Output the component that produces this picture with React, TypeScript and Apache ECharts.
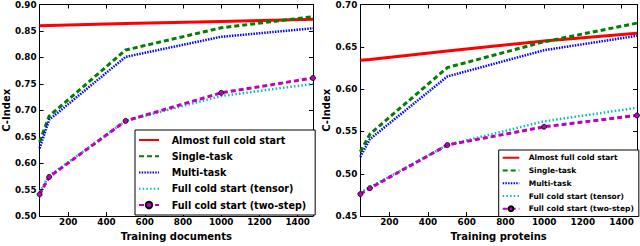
import React, { useEffect, useRef } from "react";
import * as echarts from "echarts";

const trainingSizes = [50, 100, 500, 1000, 1480];
const xTickValues = [200, 400, 600, 800, 1000, 1200, 1400];
const seriesNames = [
  "Almost full cold start",
  "Single-task",
  "Multi-task",
  "Full cold start (tensor)",
  "Full cold start (two-step)",
];

// Left panel: training documents
const docsAlmostFull = [0.86, 0.8605, 0.864, 0.868, 0.872];
const docsSingleTask = [0.64, 0.689, 0.814, 0.856, 0.877];
const docsMultiTask = [0.628, 0.682, 0.801, 0.839, 0.855];
const docsTensor = [0.546, 0.576, 0.68, 0.727, 0.75];
const docsTwoStep = [0.541, 0.574, 0.68, 0.733, 0.761];

// Right panel: training proteins
const protAlmostFull = [0.634, 0.635, 0.645, 0.657, 0.666];
const protSingleTask = [0.526, 0.547, 0.6255, 0.656, 0.678];
const protMultiTask = [0.52, 0.541, 0.615, 0.646, 0.663];
const protTensor = [0.478, 0.484, 0.534, 0.562, 0.578];
const protTwoStep = [0.476, 0.483, 0.534, 0.5555, 0.569];

const FONT = "DejaVu Sans";

const styles = [
  { color: "#ff0000", width: 3, type: "solid" as any, symbol: "none" },
  { color: "#008000", width: 3, type: [5, 3] as any, symbol: "none" },
  { color: "#0000ff", width: 2.5, type: [1.5, 1.2] as any, symbol: "none" },
  { color: "#00bfbf", width: 2.5, type: [1.5, 2.2] as any, symbol: "none" },
  { color: "#bf00bf", width: 3, type: [5, 3] as any, symbol: "circle" },
];

function makeSeries(gridIdx: number, arrays: number[][]) {
  return arrays.map((arr, i) => {
    const st = styles[i];
    return {
      type: "line",
      name: seriesNames[i],
      xAxisIndex: gridIdx * 2,
      yAxisIndex: gridIdx * 2,
      data: trainingSizes.map((x, j) => [x, arr[j]]),
      symbol: st.symbol,
      symbolSize: 5,
      showSymbol: st.symbol !== "none",
      itemStyle: { color: st.color, borderColor: "#000", borderWidth: 0.8 },
      lineStyle: { color: st.color, width: st.width, type: st.type },
      z: 2 + i * 0.01,
    };
  });
}

function xAxes(gridIdx: number, name: string) {
  const common = {
    type: "value",
    gridIndex: gridIdx,
    min: 50,
    max: 1480,
    splitLine: { show: false },
    axisLine: { show: true, onZero: false, lineStyle: { color: "#000", width: 1 } },
    axisTick: {
      show: true,
      inside: true,
      length: 4,
      customValues: xTickValues,
      lineStyle: { color: "#000", width: 1 },
    },
  };
  return [
    {
      ...common,
      position: "bottom",
      name,
      nameLocation: "middle",
      nameGap: 10.5,
      nameTextStyle: { fontFamily: FONT, fontSize: 10, fontWeight: "bold", color: "#000" },
      axisLabel: {
        show: true,
        margin: 1,
        customValues: xTickValues,
        formatter: (v: number) => String(v),
        fontFamily: FONT,
        fontSize: 8.8,
        fontWeight: "bold",
        color: "#000",
      },
    },
    {
      ...common,
      position: "top",
      axisLabel: { show: false },
    },
  ];
}

function yAxes(gridIdx: number, min: number, max: number) {
  const common = {
    type: "value",
    gridIndex: gridIdx,
    min,
    max,
    interval: 0.05,
    splitLine: { show: false },
    axisLine: { show: true, onZero: false, lineStyle: { color: "#000", width: 1 } },
    axisTick: { show: true, inside: true, length: 4, lineStyle: { color: "#000", width: 1 } },
  };
  return [
    {
      ...common,
      position: "left",
      name: "C-Index",
      nameLocation: "middle",
      nameRotate: 90,
      nameGap: 23,
      nameTextStyle: { fontFamily: FONT, fontSize: 10, fontWeight: "bold", color: "#000" },
      axisLabel: {
        show: true,
        margin: 3,
        formatter: (v: number) => v.toFixed(2),
        fontFamily: FONT,
        fontSize: 8.8,
        fontWeight: "bold",
        color: "#000",
      },
    },
    {
      ...common,
      position: "right",
      axisLabel: { show: false },
    },
  ];
}

const legendData = seriesNames.map((name, i) =>
  styles[i].symbol === "none"
    ? { name, itemStyle: { opacity: 0 } }
    : { name }
);

export default function App() {
  const ref = useRef<HTMLDivElement>(null);
  useEffect(() => {
    if (!ref.current) return;
    const chart = echarts.init(ref.current, null, { renderer: "svg" });
    const option: any = {
      animation: false,
      backgroundColor: "#fff",
      grid: [
        { left: 35.3, top: 3.3, width: 277.7, height: 218 },
        { left: 360.3, top: 3.3, width: 276.7, height: 218 },
      ],
      xAxis: [...xAxes(0, "Training documents"), ...xAxes(1, "Training proteins")],
      yAxis: [...yAxes(0, 0.5, 0.9), ...yAxes(1, 0.45, 0.7)],
      legend: [
        {
          data: legendData,
          orient: "vertical",
          left: 135,
          top: 130,
          padding: [4, 9, 4, 3],
          itemWidth: 20,
          itemHeight: 8,
          itemGap: 4.25,
          backgroundColor: "#fff",
          borderColor: "#000",
          borderWidth: 1,
          borderRadius: 0,
          selectedMode: false,
          textStyle: {
            fontFamily: FONT,
            fontSize: 9.6,
            fontWeight: "bold",
            color: "#000",
            lineHeight: 12,
            padding: [0, 0, 0, 7.7],
          },
        },
        {
          data: legendData,
          orient: "vertical",
          left: 498.7,
          top: 150,
          padding: [3, 5, 3, 3],
          itemWidth: 16.6,
          itemHeight: 6,
          itemGap: 3.25,
          backgroundColor: "#fff",
          borderColor: "#000",
          borderWidth: 1,
          borderRadius: 0,
          selectedMode: false,
          textStyle: {
            fontFamily: FONT,
            fontSize: 7.5,
            fontWeight: "bold",
            color: "#000",
            lineHeight: 9.5,
            padding: [0, 0, 0, 4.4],
          },
        },
      ],
      series: [
        ...makeSeries(0, [docsAlmostFull, docsSingleTask, docsMultiTask, docsTensor, docsTwoStep]),
        ...makeSeries(1, [protAlmostFull, protSingleTask, protMultiTask, protTensor, protTwoStep]),
      ],
    };
    chart.setOption(option);
    return () => chart.dispose();
  }, []);
  return (
    <div
      ref={ref}
      style={{ position: "absolute", left: 0, top: 0, width: 640, height: 246 }}
    />
  );
}
